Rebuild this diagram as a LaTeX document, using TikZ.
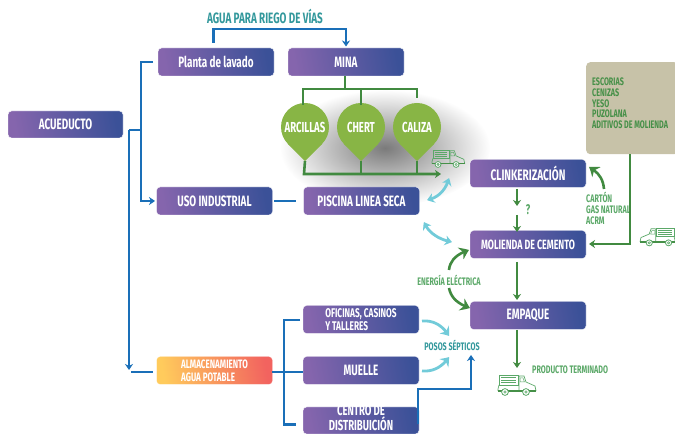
\documentclass[tikz,border=0pt]{standalone}
\usepackage{fontspec}
\setmainfont{Fira Sans}[FakeStretch=0.66]
\usetikzlibrary{arrows.meta,fadings,bending}
\definecolor{gA}{HTML}{8565AD}
\definecolor{gB}{HTML}{3B5198}
\definecolor{oA}{HTML}{FFCB5C}
\definecolor{oB}{HTML}{F2635F}
\definecolor{bl}{HTML}{1A6FB8}
\definecolor{gr}{HTML}{418A40}
\definecolor{lgr}{HTML}{5BA868}
\definecolor{pinc}{HTML}{88B545}
\definecolor{cy}{HTML}{72CBD9}
\definecolor{tealc}{HTML}{33989C}
\definecolor{tanc}{HTML}{C7C2A8}
\newcommand{\fs}[2]{\fontsize{#1}{#2}\selectfont}
\tikzfading[name=softblob,inner color=transparent!48,outer color=transparent!100]
\tikzset{
 x=1pt,y=-1pt,
 box/.style={rounded corners=3.5pt,draw=white,line width=.4pt,minimum width=116pt,minimum height=28pt,inner sep=0pt,
   left color=gA,right color=gB,shading angle=100,text=white,font=\fs{15}{15}\bfseries,align=center},
 warm/.style={box,left color=oA,right color=oB,shading angle=100,font=\fs{12.2}{13}\bfseries,align=left},
 pinhead/.style={circle,fill=pinc,minimum size=48pt,inner sep=0pt,text=white,font=\fs{14.5}{15}\bfseries},
 blueline/.style={draw=bl,line width=2.6pt},
 bluearrow/.style={blueline,-{Stealth[length=6pt,width=8pt]}},
 greenline/.style={draw=gr,line width=2.6pt},
 greenarrow/.style={greenline,-{Stealth[length=6pt,width=8pt]}},
 bigcurve/.style={draw=gr,line width=2.6pt,-{Stealth[length=9pt,width=13pt,bend]}},
 cyarrow/.style={draw=cy,line width=2.8pt,-{Stealth[length=8pt,width=12pt,bend]}},
 cydouble/.style={draw=cy,line width=2.8pt,{Stealth[length=7pt,width=10pt,bend]}-{Stealth[length=7pt,width=10pt,bend]}},
 lab/.style={inner sep=0pt,font=\fs{10.9}{11}\bfseries,text=lgr},
 tealab/.style={lab,text=tealc},
 truck/.pic={
  \draw[lgr,line width=.7pt] (1,1) rectangle (20,11);
  \draw[lgr,line width=.5pt] (3,3.5)--(18,3.5) (3,6)--(18,6) (3,8.5)--(18,8.5);
  \draw[lgr,line width=.7pt] (1,11)--(0,15)--(0,17) (21,2)--(26,2)--(28,8)--(37,12)--(38,17) (21,2)--(21,17);
  \draw[lgr,line width=.5pt] (22,4)--(25,4)--(26.5,8)--(22,8)--cycle;
  \draw[gr!80!lgr,line width=1.3pt] (0,17)--(38,17);
  \foreach \wx in {7,28}{\draw[lgr,fill=white,line width=.8pt] (\wx,18) circle (3.4);\draw[lgr,line width=.6pt] (\wx,18) circle (1.3);}
 }
}
\begin{document}
\begin{tikzpicture}
\useasboundingbox (0,0) rectangle (675,435);
% shadow
\fill[black,path fading=softblob] (385,148) ellipse (105 and 58);
% nodes
\node[box,minimum width=115pt,minimum height=27pt] (acu) at (65.5,124.5) {ACUEDUCTO};
\node[box] (lav) at (216,62) {Planta de lavado};
\node[box] (mina) at (346,62) {MINA};
\node[box] (uso) at (214.5,201) {USO INDUSTRIAL};
\node[box] (pis) at (361.5,201) {PISCINA LINEA SECA};
\node[box,font=\fs{15.2}{15}\bfseries] (cli) at (528,173.5) {CLINKERIZACIÓN};
\node[box,font=\fs{13.4}{15}\bfseries] (mol) at (528,244.5) {MOLIENDA DE CEMENTO};
\node[box] (emp) at (528,315.5) {EMPAQUE};
\node[warm] (alm) at (214.5,370.5) {ALMACENAMIENTO\\AGUA POTABLE};
\node[box,font=\fs{12.6}{13}\bfseries,align=left] (ofi) at (361,319.5) {OFICINAS, CASINOS\\Y TALLERES};
\node[box] (mue) at (361,370.5) {MUELLE};
\node[box,minimum height=27pt] (cen) at (361,420.5) {};
\node[inner sep=0pt,text=white,align=center,font=\fs{14.5}{13.5}\bfseries] (centxt) at (361,418) {CENTRO DE\\DISTRIBUICIÓN};
\node[fill=tanc,rounded corners=4pt,minimum width=92pt,minimum height=92pt,inner sep=0pt,anchor=north west] (tanbox) at (586,62) {};
\node[lab,text=gr!80!lgr,anchor=west,align=left,font=\fs{10.9}{10.7}\bfseries] (mat) at (592,103.5) {ESCORIAS\\CENIZAS\\YESO\\PUZOLANA\\ADITIVOS DE MOLIENDA};
% pins
\foreach \n/\cx/\t in {arc/305/ARCILLAS,che/361/CHERT,cal/417/CALIZA}{
 \coordinate (\n tip) at (\cx,161);
 \node[pinhead] (\n) at (\cx,127) {\t};
 \fill[pinc] (\n.-45)--(\n tip)--(\n.-135)--cycle;
}
% labels
\node[tealab,font=\fs{15}{15}\bfseries] (riego) at (265,16) {AGUA PARA RIEGO DE VÍAS};
\node[tealab] (pos) at (452,345) {POSOS SÉPTICOS};
\node[lab] (ene) at (449,280) {ENERGÍA ELÉCTRICA};
\node[lab,anchor=west] (pro) at (532,370) {PRODUCTO TERMINADO};
\node[lab,anchor=west,align=left] (car) at (586,208) {CARTÓN\\GAS NATURAL\\ACRM};
\node[lab,font=\fs{14}{14}\bfseries] (q) at (528,210) {?};
% blue connectors
\coordinate (a1) at (213.5,43);\coordinate (a2) at (213.5,29);\coordinate (a3) at (346,29);\coordinate (a4) at (346,46.5);
\draw[bluearrow] (a1)--(a2)--(a3)--(a4);
\coordinate (b0) at (129,130);\coordinate (b1) at (141,130);\coordinate (b2) at (141,62);\coordinate (b3) at (153,62);\coordinate (b4) at (141,201);\coordinate (b5) at (155,201);\coordinate (b6) at (129,370);
\draw[blueline] (b3)--(b2)--(b1)--(b0);
\draw[bluearrow] (b1)--(b4)--(b5);
\draw[bluearrow] (b0)--(b6);
\coordinate (c0) at (131,372);\coordinate (c1) at (153,372);
\draw[blueline] (c0)--(c1);
\coordinate (d0) at (274,201);\coordinate (d1) at (296,201);
\draw[blueline] (d0)--(d1);
\coordinate (e0) at (272,372);\coordinate (e1) at (303,372);\coordinate (e2) at (284,320);\coordinate (e3) at (300,320);\coordinate (e4) at (284,424.5);\coordinate (e5) at (296,424.5);
\draw[blueline] (e0)--(e1);
\draw[blueline] (e3)--(e2)--(e4)--(e5);
\coordinate (f0) at (418,424);\coordinate (f1) at (418,389);\coordinate (f2) at (471,389);\coordinate (f3) at (471,355);
\draw[bluearrow] (f0)--(f1)--(f2)--(f3);
% green connectors
\coordinate (g0) at (345,76);\coordinate (g1) at (345,89);\coordinate (g2) at (303,89);\coordinate (g3) at (417,89);\coordinate (g4) at (361,89);\coordinate (g5) at (417,98);\coordinate (g6) at (303,105);\coordinate (g7) at (361,105);
\draw[greenline] (g0)--(g1);
\draw[greenline] (g6)--(g2)--(g3)--(g5);
\draw[greenline] (g4)--(g7);
\coordinate (h0) at (304,174);\coordinate (h1) at (441,174);\coordinate (h2) at (361,174);\coordinate (h3) at (417,174);
\draw[greenarrow] (arctip)--(h0)--(h1);
\draw[greenline] (chetip)--(h2);
\draw[greenline] (caltip)--(h3);
\coordinate (i0) at (517,189);\coordinate (i1) at (517,206);\coordinate (i2) at (517,215);\coordinate (i3) at (517,232);
\draw[greenarrow] (i0)--(i1);
\draw[greenarrow] (i2)--(i3);
\coordinate (j0) at (517,262);\coordinate (j1) at (517,300);\coordinate (j2) at (517,330);\coordinate (j3) at (517,368);
\draw[greenarrow] (j0)--(j1);
\draw[greenarrow] (j2)--(j3);
\coordinate (k0) at (630,154);\coordinate (k1) at (630,244);\coordinate (k2) at (589,244);
\draw[greenarrow] (tanbox.south -| k0)--(k1)--(k2);
\coordinate (l0) at (604,189);\coordinate (l1) at (589,167);
\draw[bigcurve] (l0) .. controls (603,178) and (598,172) .. (l1);
\coordinate (m0) at (449,270);\coordinate (m1) at (469,250);\coordinate (m2) at (449,288);\coordinate (m3) at (470,308);
\draw[bigcurve] (m0) .. controls (450,260) and (457,254) .. (m1);
\draw[bigcurve] (m2) .. controls (451,298) and (458,304) .. (m3);
% cyan arrows
\coordinate (n0) at (427,200);\coordinate (n1) at (449,178);\coordinate (n2) at (424,222);\coordinate (n3) at (452,242);
\draw[cydouble] (n0) .. controls (438,198) and (446,190) .. (n1);
\draw[cydouble] (n2) .. controls (428,233) and (440,240) .. (n3);
\coordinate (o0) at (422,321);\coordinate (o1) at (449,336);\coordinate (o2) at (422,371);\coordinate (o3) at (449,357);
\draw[cyarrow] (o0) .. controls (434,320) and (443,326) .. (o1);
\draw[cyarrow] (o2) .. controls (434,372) and (443,366) .. (o3);
% trucks
\pic[scale=.86] at (432,149) {truck};
\pic[xscale=-.92,yscale=.88] at (675,227) {truck};
\pic at (498,374) {truck};
\end{tikzpicture}
\end{document}
